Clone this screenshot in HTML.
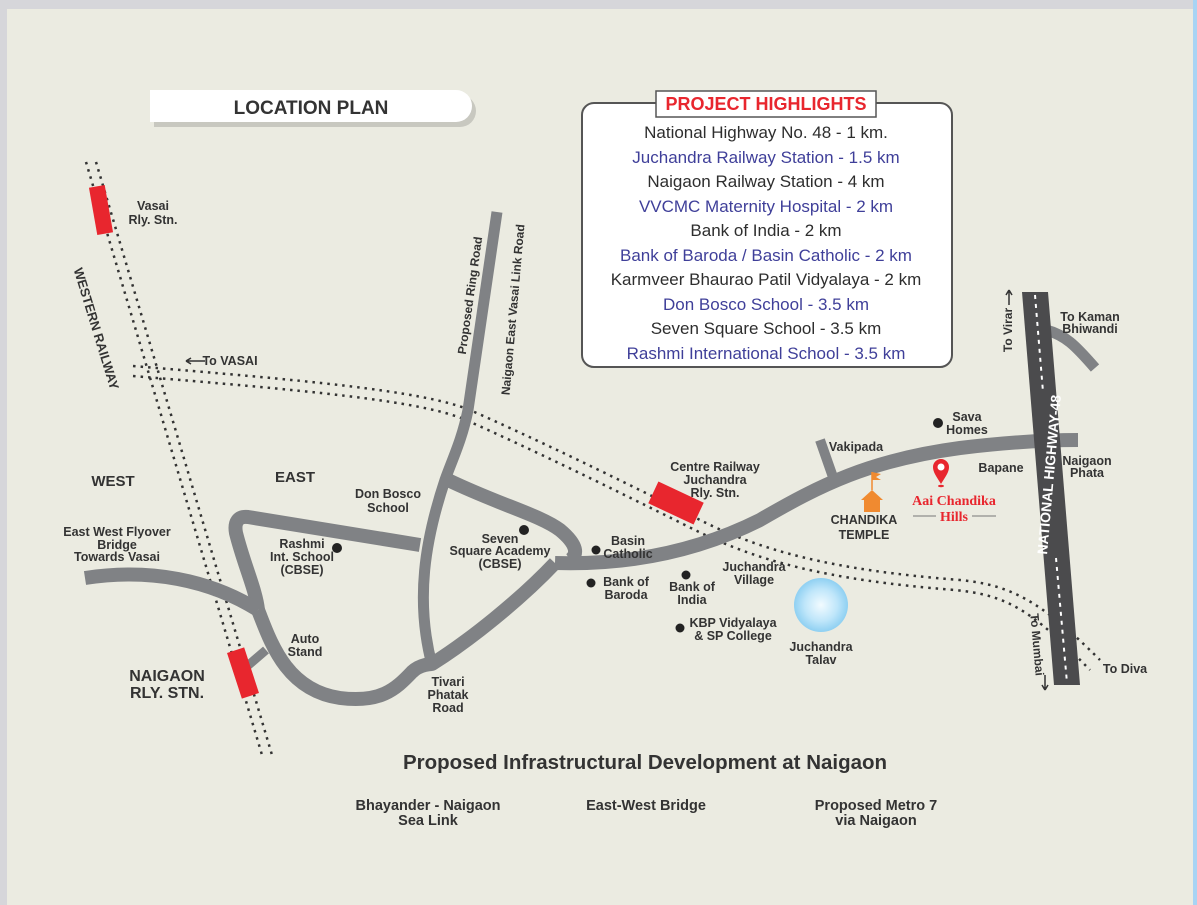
<!DOCTYPE html>
<html><head><meta charset="utf-8"><style>
html,body{margin:0;padding:0;width:1197px;height:905px;overflow:hidden;background:#d6d6da}
svg{display:block;font-family:"Liberation Sans",Arial,sans-serif}
</style></head><body>
<svg width="1197" height="905" viewBox="0 0 1197 905" xmlns="http://www.w3.org/2000/svg">
<defs>
<radialGradient id="lake" cx="0.5" cy="0.5" r="0.5"><stop offset="0" stop-color="#f2fbff"/><stop offset="0.6" stop-color="#bfe6fa"/><stop offset="1" stop-color="#8fd0f2"/></radialGradient>
</defs>
<rect x="0" y="0" width="1197" height="905" fill="#d6d6da"/>
<rect x="7" y="9" width="1186" height="896" fill="#ebebe1"/>
<rect x="1193" y="0" width="4" height="905" fill="#a8d4f4"/>

<!-- Location plan pill -->
<path d="M152,92 H458 a16,16 0 0 1 0,32 H152 Z" fill="#c8c8c0" transform="translate(2,3)"/>
<path d="M150,90 H456 a16,16 0 0 1 0,32 H150 Z" fill="#fff"/>
<text x="311" y="114" font-size="19" font-weight="bold" fill="#333" text-anchor="middle">LOCATION PLAN</text>

<!-- Highlights box -->
<rect x="582" y="103" width="370" height="264" rx="12" fill="#fff" stroke="#555" stroke-width="2"/>
<rect x="656" y="91" width="220" height="26" fill="#fff" stroke="#555" stroke-width="1.5"/>
<text x="766" y="110" font-size="18" font-weight="bold" fill="#e8262e" text-anchor="middle">PROJECT HIGHLIGHTS</text>
<g font-size="17" text-anchor="middle">
<text x="766" y="138" fill="#2e2e2e">National Highway No. 48 - 1 km.</text>
<text x="766" y="163" fill="#3f3f99">Juchandra Railway Station - 1.5 km</text>
<text x="766" y="187" fill="#2e2e2e">Naigaon Railway Station - 4 km</text>
<text x="766" y="212" fill="#3f3f99">VVCMC Maternity Hospital - 2 km</text>
<text x="766" y="236" fill="#2e2e2e">Bank of India - 2 km</text>
<text x="766" y="261" fill="#3f3f99">Bank of Baroda / Basin Catholic  - 2 km</text>
<text x="766" y="285" fill="#2e2e2e">Karmveer Bhaurao Patil Vidyalaya - 2 km</text>
<text x="766" y="310" fill="#3f3f99">Don Bosco School  - 3.5 km</text>
<text x="766" y="334" fill="#2e2e2e">Seven Square School - 3.5 km</text>
<text x="766" y="359" fill="#3f3f99">Rashmi International School - 3.5 km</text>
</g>

<!-- Railways -->
<g fill="none" stroke="#333" stroke-width="2.5" stroke-dasharray="2.5,5">
<path d="M86,162 L262,755"/><path d="M96,162 L272,755"/>
<path d="M133,366 C300,380 420,390 470,410 C560,450 640,490 700,520 C760,550 830,570 960,580 C1010,585 1040,600 1100,660"/>
<path d="M133,376 C300,390 420,400 466,420 C555,460 635,500 695,530 C755,560 825,580 955,590 C1005,595 1030,608 1090,670"/>
</g>

<!-- Roads -->
<g fill="none" stroke="#808285" stroke-width="14" stroke-linecap="butt" stroke-linejoin="round">
<path d="M497,212 L468,410 C462,440 452,460 445,480 C425,540 415,600 432,665" stroke-width="11"/>
<path d="M448,480 C500,505 540,515 560,530 C578,545 578,555 570,560"/>
<path d="M555,563 C620,565 690,555 760,520 C820,485 870,460 960,448 C1010,442 1050,440 1078,440"/>
<path d="M820,440 L834,480" stroke-width="10"/>
<path d="M420,545 L248,517 C238,516 234,522 236,533 C244,565 256,590 258,610"/>
<path d="M85,578 C150,568 210,580 258,610"/>
<path d="M258,610 C270,640 285,690 340,698 C380,703 395,690 412,672 C420,664 432,664 432,664 C470,640 520,600 555,563"/>
<path d="M245,668 L266,650" stroke-width="9"/>
<path d="M1046,330 C1065,335 1075,345 1095,368" stroke-width="11"/>
</g>

<!-- NH48 -->
<polygon points="1022,292 1048,292 1080,685 1054,685" fill="#4b4b4d"/>
<line x1="1035" y1="295" x2="1043" y2="392" stroke="#fff" stroke-width="2" stroke-dasharray="4,5"/>
<line x1="1056" y1="558" x2="1067" y2="683" stroke="#fff" stroke-width="2" stroke-dasharray="4,5"/>

<!-- Stations -->
<rect x="-8" y="-24" width="16" height="48" fill="#e8262e" transform="translate(101,210) rotate(-10)"/>
<rect x="-9" y="-24" width="18" height="48" fill="#e8262e" transform="translate(243,673) rotate(-18)"/>
<rect x="-25" y="-12" width="50" height="24" fill="#e8262e" transform="translate(676,503) rotate(25)"/>

<!-- Lake -->
<circle cx="821" cy="605" r="27" fill="url(#lake)"/>

<!-- Temple -->
<g transform="translate(872,480)">
<line x1="0" y1="-8" x2="0" y2="10" stroke="#f08a30" stroke-width="1.5"/>
<path d="M0,-8 L9,-6 L4,-3 L9,0 L0,0Z" fill="#f08a30"/>
<polygon points="-11,20 0,10 11,20" fill="#f08a30"/>
<rect x="-8" y="20" width="16" height="12" fill="#f08a30"/>
</g>

<!-- Pin -->
<g transform="translate(941,468)">
<path d="M0,16 C-5,8 -8,4 -8,-1 a8,8 0 0 1 16,0 C8,4 5,8 0,16Z" fill="#e8262e"/>
<circle cx="0" cy="-1" r="3.5" fill="#fff"/>
<ellipse cx="0" cy="18" rx="3" ry="1.2" fill="#e8262e"/>
</g>
<text x="954" y="505" font-size="14" font-weight="bold" fill="#e8262e" text-anchor="middle" font-family="Liberation Serif,serif">Aai Chandika</text>
<text x="954" y="521" font-size="14" font-weight="bold" fill="#e8262e" text-anchor="middle" font-family="Liberation Serif,serif">Hills</text>
<line x1="913" y1="516" x2="936" y2="516" stroke="#777" stroke-width="1"/>
<line x1="972" y1="516" x2="996" y2="516" stroke="#777" stroke-width="1"/>

<!-- dots -->
<g fill="#222">
<circle cx="337" cy="548" r="5"/><circle cx="524" cy="530" r="5"/>
<circle cx="596" cy="550" r="4.5"/><circle cx="591" cy="583" r="4.5"/>
<circle cx="686" cy="575" r="4.5"/><circle cx="680" cy="628" r="4.5"/>
<circle cx="938" cy="423" r="5"/>
</g>

<!-- Labels -->
<g font-size="12.5" font-weight="bold" fill="#333" text-anchor="middle">
<text x="153" y="210">Vasai</text><text x="153" y="224">Rly. Stn.</text>
<text x="113" y="486" font-size="15">WEST</text>
<text x="295" y="482" font-size="15">EAST</text>
<text x="388" y="498">Don Bosco</text><text x="388" y="512">School</text>
<text x="117" y="536">East West Flyover</text><text x="117" y="549">Bridge</text><text x="117" y="561">Towards Vasai</text>
<text x="302" y="548">Rashmi</text><text x="302" y="561">Int. School</text><text x="302" y="574">(CBSE)</text>
<text x="500" y="543">Seven</text><text x="500" y="555">Square Academy</text><text x="500" y="568">(CBSE)</text>
<text x="305" y="643">Auto</text><text x="305" y="656">Stand</text>
<text x="167" y="681" font-size="16">NAIGAON</text><text x="167" y="698" font-size="16">RLY. STN.</text>
<text x="448" y="686">Tivari</text><text x="448" y="699">Phatak</text><text x="448" y="712">Road</text>
<text x="628" y="545">Basin</text><text x="628" y="558">Catholic</text>
<text x="626" y="586">Bank of</text><text x="626" y="599">Baroda</text>
<text x="692" y="591">Bank of</text><text x="692" y="604">India</text>
<text x="754" y="571">Juchandra</text><text x="754" y="584">Village</text>
<text x="733" y="627">KBP Vidyalaya</text><text x="733" y="640">&amp; SP College</text>
<text x="821" y="651">Juchandra</text><text x="821" y="664">Talav</text>
<text x="715" y="471">Centre Railway</text><text x="715" y="484">Juchandra</text><text x="715" y="497">Rly. Stn.</text>
<text x="856" y="451">Vakipada</text>
<text x="864" y="524">CHANDIKA</text><text x="864" y="539">TEMPLE</text>
<text x="967" y="421">Sava</text><text x="967" y="434">Homes</text>
<text x="1001" y="472">Bapane</text>
<text x="1087" y="465">Naigaon</text><text x="1087" y="477">Phata</text>
<text x="1090" y="321">To Kaman</text><text x="1090" y="333">Bhiwandi</text>
<text x="1125" y="673">To Diva</text>
<text x="230" y="365">To VASAI</text>
</g>
<path d="M186,361 H205 M186,361 l5,-3 M186,361 l5,3" stroke="#333" stroke-width="1.6" fill="none"/>

<g font-size="12" font-weight="bold" fill="#333">
<text transform="translate(92,330) rotate(73)" font-size="13" text-anchor="middle">WESTERN RAILWAY</text>
<text transform="translate(474,296) rotate(-82)" text-anchor="middle">Proposed Ring Road</text>
<text transform="translate(517,310) rotate(-85)" text-anchor="middle">Naigaon East Vasai Link Road</text>
<text transform="translate(1012,330) rotate(-90)" text-anchor="middle">To Virar</text>
<text transform="translate(1033,645) rotate(85)" text-anchor="middle">To Mumbai</text>
</g>
<path d="M1009,305 V290 M1009,290 l-3,5 M1009,290 l3,5" stroke="#333" stroke-width="1.5" fill="none"/>
<path d="M1045,675 V690 M1045,690 l-3,-5 M1045,690 l3,-5" stroke="#333" stroke-width="1.5" fill="none"/>
<text transform="translate(1054,475) rotate(-85)" font-size="14" font-weight="bold" fill="#fff" text-anchor="middle">NATIONAL HIGHWAY-48</text>

<!-- Bottom -->
<text x="645" y="769" font-size="20.5" font-weight="bold" fill="#333" text-anchor="middle">Proposed Infrastructural Development at Naigaon</text>
<g font-size="14.5" font-weight="bold" fill="#333" text-anchor="middle">
<text x="428" y="810">Bhayander - Naigaon</text><text x="428" y="825">Sea Link</text>
<text x="646" y="810">East-West Bridge</text>
<text x="876" y="810">Proposed Metro 7</text><text x="876" y="825">via Naigaon</text>
</g>
</svg>
</body></html>
